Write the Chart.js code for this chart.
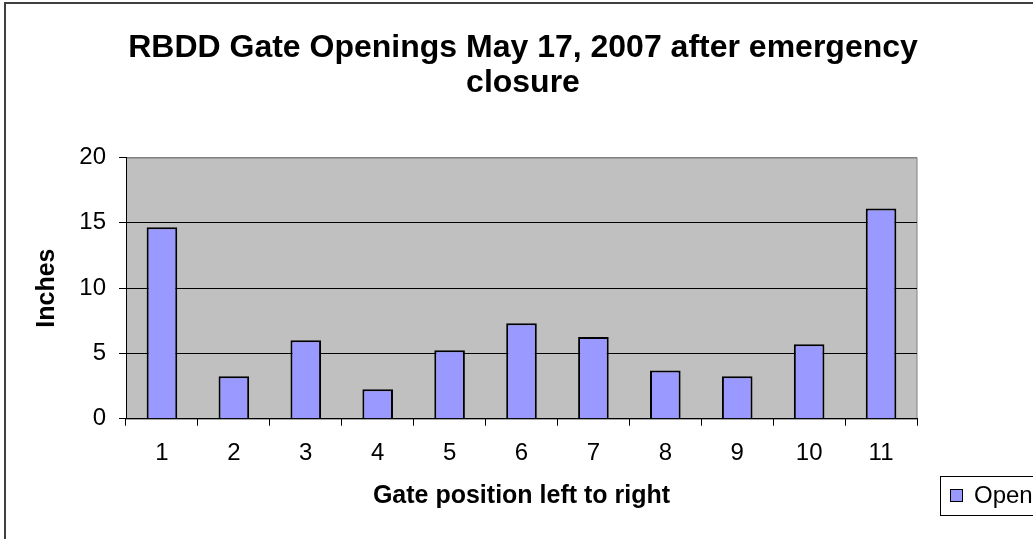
<!DOCTYPE html>
<html>
<head>
<meta charset="utf-8">
<title>RBDD Gate Openings</title>
<script src="https://cdn.jsdelivr.net/npm/chart.js@4/dist/chart.umd.min.js"></script>
<style>
  html, body { margin: 0; padding: 0; background: #fff; overflow: hidden; }
  #wrap { position: absolute; left: 0; top: 0; }
</style>
</head>
<body>
<div id="wrap"><canvas id="c" width="1046" height="539"></canvas></div>
<script>
// Gate positions, left to right
const gates = ['1', '2', '3', '4', '5', '6', '7', '8', '9', '10', '11'];
// Opening of each gate, inches
const openings = [14.65, 3.25, 6.0, 2.25, 5.25, 7.3, 6.25, 3.7, 3.25, 5.7, 16.1];
const seriesName = 'Openings';
const titleLines = ['RBDD Gate Openings May 17, 2007 after emergency', 'closure'];
const yTicks = [0, 5, 10, 15, 20];

const FONT = 'Arial, "Liberation Sans", sans-serif';

// Outer frame, grey plot area, centred chart title and the boxed legend
const frame = {
  id: 'frame',
  beforeDraw(chart) {
    const ctx = chart.ctx;
    const a = chart.chartArea;
    ctx.save();
    ctx.strokeStyle = '#404040';
    ctx.lineWidth = 2;
    ctx.strokeRect(5, 3, 3000, 3000);
    ctx.fillStyle = '#c0c0c0';
    ctx.fillRect(a.left, a.top, a.right - a.left, a.bottom - a.top);
    ctx.strokeStyle = '#808080';
    ctx.lineWidth = 1;
    ctx.strokeRect(a.left + 0.5, a.top + 0.5, a.right - a.left - 0.5, a.bottom - a.top);

    ctx.fillStyle = '#000';
    ctx.font = 'bold 32px ' + FONT;
    ctx.textAlign = 'center';
    ctx.textBaseline = 'middle';
    titleLines.forEach((line, i) => ctx.fillText(line, 523, 48 + i * 35));
    ctx.restore();
  },
  afterDraw(chart) {
    const ctx = chart.ctx;
    const ds = chart.data.datasets[0];
    ctx.save();
    ctx.strokeStyle = '#000';
    ctx.lineWidth = 1;
    ctx.fillStyle = '#fff';
    ctx.fillRect(940.5, 476.5, 300, 39);
    ctx.strokeRect(940.5, 476.5, 300, 39);
    ctx.fillStyle = ds.backgroundColor;
    ctx.fillRect(950.5, 489.5, 12, 12);
    ctx.strokeRect(950.5, 489.5, 12, 12);
    ctx.fillStyle = '#000';
    ctx.font = '24px ' + FONT;
    ctx.textBaseline = 'middle';
    ctx.textAlign = 'left';
    ctx.fillText(ds.label, 974, 496);
    ctx.restore();
  }
};

new Chart(document.getElementById('c'), {
  type: 'bar',
  data: {
    labels: gates,
    datasets: [{
      label: seriesName,
      data: openings,
      backgroundColor: '#9999ff',
      borderColor: '#000000',
      borderWidth: 2,
      categoryPercentage: 1.0,
      barPercentage: 0.4255
    }]
  },
  options: {
    responsive: false,
    animation: false,
    devicePixelRatio: 1,
    layout: { padding: { left: 20, right: 129, top: 157.5, bottom: 23.5 } },
    plugins: {
      legend: { display: false },
      tooltip: { enabled: false },
      title: { display: false }
    },
    scales: {
      x: {
        offset: true,
        afterFit(scale) { scale.height = 96.8; },
        grid: {
          offset: true,
          drawOnChartArea: false,
          drawTicks: true,
          tickLength: 7,
          tickColor: '#000'
        },
        border: { display: true, color: '#000', width: 1 },
        ticks: {
          color: '#000',
          padding: 13.4,
          font: { family: FONT, size: 24 }
        },
        title: {
          display: true,
          text: 'Gate position left to right',
          color: '#000',
          font: { family: FONT, size: 25, weight: 'bold', lineHeight: 1.2 },
          padding: { top: 4, bottom: 4 }
        }
      },
      y: {
        min: 0,
        max: 20,
        afterFit(scale) { scale.width = 106; },
        afterBuildTicks(scale) { scale.ticks = yTicks.map(v => ({ value: v })); },
        grid: {
          color: ctx => (ctx.tick && ctx.tick.value === 20 ? '#808080' : '#000'),
          lineWidth: 1,
          drawTicks: true,
          tickLength: 7,
          tickColor: '#000'
        },
        border: { display: true, color: '#000', width: 1 },
        ticks: {
          color: '#000',
          padding: 13,
          font: { family: FONT, size: 24 }
        },
        title: {
          display: true,
          text: 'Inches',
          color: '#000',
          font: { family: FONT, size: 25, weight: 'bold', lineHeight: 1.2 },
          padding: { top: 12.5, bottom: 4 }
        }
      }
    }
  },
  plugins: [frame]
});
</script>
</body>
</html>
